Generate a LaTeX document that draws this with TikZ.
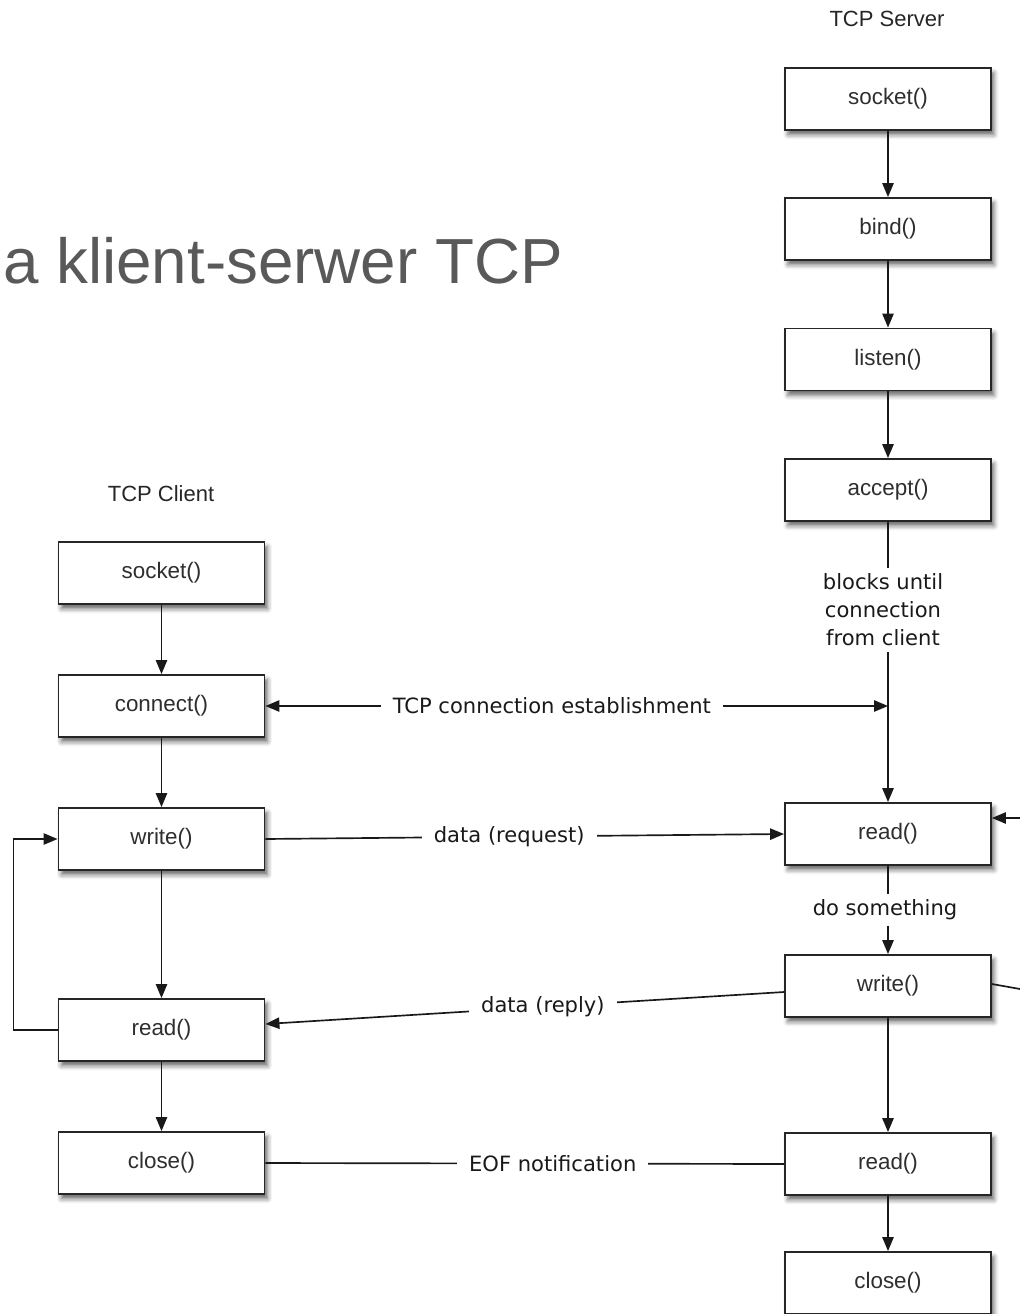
\documentclass[tikz,border=0pt]{standalone}
\usepackage{fontspec}
\setmainfont{Liberation Sans}
\newfontfamily\lblfont{DejaVu Sans}
\usetikzlibrary{arrows.meta,shadows.blur,calc}

\begin{document}
\begin{tikzpicture}[x=0.75pt,y=-0.75pt,
  fn/.style={draw=black!85, line width=1.4pt, fill=white,
    minimum width=154.5pt, minimum height=46.5pt, inner sep=0pt,
    font=\fontsize{16.8}{19}\selectfont, text=black!82,
    blur shadow={shadow xshift=2.2pt, shadow yshift=-3.6pt,
      shadow blur radius=3.5pt, shadow opacity=60}},
  head/.style={font=\fontsize{16.5}{19}\selectfont, text=black!85},
  lbl/.style={font=\lblfont\fontsize{15.8}{21}\selectfont, text=black!90,
    fill=white, inner xsep=9pt, inner ysep=2pt},
  link/.style={draw=black!90, line width=1.25pt},
  tip/.style={-{Triangle[length=10.5pt,width=8.5pt]}},
  both/.style={{Triangle[length=10.5pt,width=8.5pt]}-{Triangle[length=10.5pt,width=8.5pt]}}]

\useasboundingbox (0,0) rectangle (1020,1314);

% title
\node[anchor=base west, inner sep=0pt, text=black!65,
  font=\fontsize{47.8}{56}\selectfont] (title) at (3,283) {a klient-serwer TCP};

% column headings
\node[head] (hsrv) at (887,19) {TCP Server};
\node[head] (hcli) at (161,494) {TCP Client};

% server calls
\node[fn] (ssock)   at (888,99)   {socket()};
\node[fn] (sbind)   at (888,229)  {bind()};
\node[fn] (slisten) at (888,359.5){listen()};
\node[fn] (saccept) at (888,490)  {accept()};
\node[fn] (sread)   at (888,834)  {read()};
\node[fn] (swrite)  at (888,986)  {write()};
\node[fn] (sreadb)  at (888,1164) {read()};
\node[fn] (sclose)  at (888,1283) {close()};

% client calls
\node[fn] (csock)    at (161.5,573)  {socket()};
\node[fn] (cconnect) at (161.5,706)  {connect()};
\node[fn] (cwrite)   at (161.5,839)  {write()};
\node[fn] (cread)    at (161.5,1030) {read()};
\node[fn] (cclose)   at (161.5,1163) {close()};

% server-side notes
\node[lbl, fill=none, align=center, inner ysep=4pt] (blk) at (883,610)
  {blocks until\\connection\\ from client};
\node[lbl, fill=none, inner ysep=4pt] (dosth) at (885,910) {do something};

% server flow
\draw[link,tip] (ssock) -- (sbind);
\draw[link,tip] (sbind) -- (slisten);
\draw[link,tip] (slisten) -- (saccept);
\draw[link] (saccept) -- (saccept |- blk.north);
\draw[link,tip] (saccept |- blk.south) -- (sread);
\draw[link] (sread) -- (sread |- dosth.north);
\draw[link,tip] (sread |- dosth.south) -- (swrite);
\draw[link,tip] (swrite) -- (sreadb);
\draw[link,tip] (sreadb) -- (sclose);

% client flow
\draw[link,tip] (csock) -- (cconnect);
\draw[link,tip] (cconnect) -- (cwrite);
\draw[link,tip] (cwrite) -- (cread);
\draw[link,tip] (cread) -- (cclose);
\draw[link,tip] (cread.west) -- ++(-44,0) |- (cwrite.west);

% exchanges between client and server
\coordinate (hs) at (sread |- cconnect);
\draw[link,both] (cconnect.east) -- node[lbl, pos=0.46] {TCP connection establishment} (hs);
\draw[link,tip] (cwrite.east) -- node[lbl, pos=0.47] {data (request)} (sread.west);
\draw[link,tip] ([yshift=-4.5pt]swrite.west) -- node[lbl, pos=0.465] {data (reply)} ([yshift=4.5pt]cread.east);
\draw[link] (cclose.east) -- node[lbl, pos=0.554] {EOF notification} (sreadb.west);

% server loop running past the right edge
\coordinate (loopin) at (1020,818);
\coordinate (loopout) at (1020,989);
\draw[link,tip] (loopin) -- ([yshift=12pt]sread.east);
\draw[link] ([yshift=1.5pt]swrite.east) -- (loopout);
\end{tikzpicture}
\end{document}
